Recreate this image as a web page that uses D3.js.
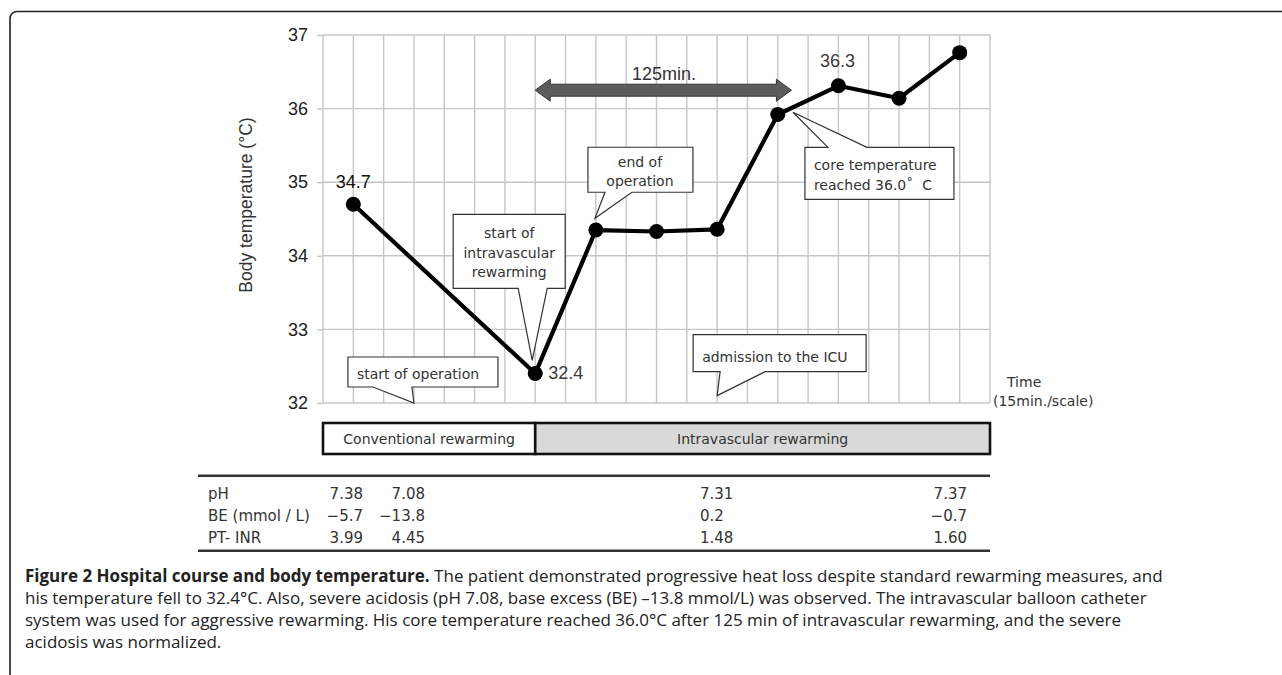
<!DOCTYPE html>
<html>
<head>
<meta charset="utf-8">
<script src="https://cdn.jsdelivr.net/npm/d3@7"></script>
<style>
  html, body { margin: 0; padding: 0; background: #fff; }
  svg { display: block; }
</style>
</head>
<body>
<svg id="chart" width="1282" height="675"></svg>
<script>
// ---------------- DATA ----------------
const times = [1, 7, 9, 11, 13, 15, 17, 19, 21];          // time in 15-min units
const temps = [34.7, 32.4, 34.35, 34.33, 34.36, 35.92, 36.31, 36.14, 36.76];
const yTickValues = [32, 33, 34, 35, 36, 37];
const timeGrid = d3.range(0, 23);
const pointLabels = [
  { index: 0, text: "34.7" },
  { index: 1, text: "32.4" },
  { index: 6, text: "36.3" }
];
const phaseNames = ["Conventional rewarming", "Intravascular rewarming"];
const phaseBounds = [[0, 7], [7, 22]];
const labNames = ["pH", "BE (mmol / L)", "PT- INR"];
const pHValues = ["7.38", "7.08", "7.31", "7.37"];
const beValues = ["\u22125.7", "\u221213.8", "0.2", "\u22120.7"];
const inrValues = ["3.99", "4.45", "1.48", "1.60"];
const durationLabel = "125min.";
const durationSpan = [7, 15.45];
const callouts = [
  { lines: ["start of operation"], tip: [3, 32] },
  { lines: ["start of", "intravascular", "rewarming"], tip: [6.9, 32.58] },
  { lines: ["end of", "operation"], tip: [8.97, 34.51] },
  { lines: ["core temperature", "reached 36.0\u02da\u00a0\u00a0C"], tip: [15.5, 35.95] },
  { lines: ["admission to the ICU"], tip: [13, 32.1] }
];
const captionBold = "Figure 2 Hospital course and body temperature.";
const captionLines = [
  " The patient demonstrated progressive heat loss despite standard rewarming measures, and",
  "his temperature fell to 32.4\u00b0C. Also, severe acidosis (pH 7.08, base excess (BE) \u201313.8 mmol/L) was observed. The intravascular balloon catheter",
  "system was used for aggressive rewarming. His core temperature reached 36.0\u00b0C after 125 min of intravascular rewarming, and the severe",
  "acidosis was normalized."
];

// ---------------- LAYOUT ----------------
const svg = d3.select("#chart");
const plot = { left: 323, right: 990, top: 35, bottom: 403 };
const x = d3.scaleLinear().domain([0, 22]).range([plot.left, plot.right]);
const y = d3.scaleLinear().domain([32, 37]).range([plot.bottom, plot.top]);
const gridColor = "#c6c6c6";
const calloutFont = "'DejaVu Sans', sans-serif";
const jpFont = "'DejaVu Sans', sans-serif";

// frame
svg.append("path")
  .attr("d", "M1282,11.5 H17 A7,7 0 0 0 10,18.5 V676")
  .attr("fill", "none").attr("stroke", "#222").attr("stroke-width", 1.6);

// grid
const grid = svg.append("g");
grid.selectAll("line.v").data(timeGrid).join("line")
  .attr("x1", d => x(d)).attr("x2", d => x(d))
  .attr("y1", plot.top).attr("y2", plot.bottom)
  .attr("stroke", gridColor).attr("stroke-width", 1.4);
grid.selectAll("line.h").data(yTickValues).join("line")
  .attr("x1", plot.left).attr("x2", plot.right)
  .attr("y1", d => y(d)).attr("y2", d => y(d))
  .attr("stroke", gridColor).attr("stroke-width", 1.4);

// y axis
const yAxis = svg.append("g").attr("transform", `translate(${plot.left},0)`)
  .call(d3.axisLeft(y).tickValues(yTickValues).tickSize(6).tickPadding(9).tickFormat(d3.format("d")));
yAxis.select(".domain").remove();
yAxis.selectAll(".tick line").attr("stroke", gridColor).attr("stroke-width", 1.4);
yAxis.selectAll(".tick text")
  .attr("font-family", "'Liberation Sans', Arial, sans-serif")
  .attr("font-size", 18).attr("fill", "#222");

svg.append("text")
  .attr("transform", `translate(252,205) rotate(-90)`)
  .attr("text-anchor", "middle")
  .attr("font-family", "'Liberation Sans', Arial, sans-serif")
  .attr("font-size", 17.5).attr("fill", "#333")
  .text("Body temperature (\u00b0C)");

// time label
svg.append("text").attr("x", x(22) + 17).attr("y", y(32) - 16)
  .attr("font-family", jpFont).attr("font-size", 14).attr("fill", "#333").text("Time");
svg.append("text").attr("x", x(22) + 3).attr("y", y(32) + 3)
  .attr("font-family", jpFont).attr("font-size", 14).attr("fill", "#333").text("(15min./scale)");

// duration arrow
{
  const x0 = x(durationSpan[0]), x1 = x(durationSpan[1]), yc = y(36.25);
  const hl = 15, hh = 11, sh = 6;
  const pts = [[x0, yc], [x0 + hl, yc - hh], [x0 + hl, yc - sh], [x1 - hl, yc - sh], [x1 - hl, yc - hh],
               [x1, yc], [x1 - hl, yc + hh], [x1 - hl, yc + sh], [x0 + hl, yc + sh], [x0 + hl, yc + hh]];
  svg.append("path").attr("d", "M" + pts.map(p => p.join(",")).join("L") + "Z")
    .attr("fill", "#5c5c5c").attr("stroke", "#333").attr("stroke-width", 1);
  svg.append("text").attr("x", x(11.25)).attr("y", yc - 10)
    .attr("text-anchor", "middle")
    .attr("font-family", "'Liberation Sans', Arial, sans-serif")
    .attr("font-size", 18).attr("fill", "#333").text(durationLabel);
}

// callouts (box geometry in pixels relative to the tip)
const calloutGeom = [
  { box: [-66, 84, -46, -16], side: "bottom", base: [-41, -2], anchor: "start", tx: -57, ty: [-24] },
  { box: [-79, 33, -146, -72], side: "bottom", base: [-14, 15], anchor: "middle", tx: -23, ty: [-122, -102, -83] },
  { box: [-7, 98, -71, -26], side: "bottom", base: [10, 37], anchor: "middle", tx: 45, ty: [-51, -32] },
  { box: [12, 161, 35, 87], side: "top", base: [35, 74], anchor: "start", tx: 21, ty: [58, 78] },
  { box: [-24, 149, -61, -24], side: "bottom", base: [3, 48], anchor: "start", tx: -15, ty: [-34] }
];
callouts.forEach((c, i) => {
  const g = calloutGeom[i];
  const tx = x(c.tip[0]), ty = y(c.tip[1]);
  const L = tx + g.box[0], R = tx + g.box[1], T = ty + g.box[2], B = ty + g.box[3];
  const b0 = tx + g.base[0], b1 = tx + g.base[1];
  let d;
  if (g.side === "bottom") {
    d = `M${L},${T}H${R}V${B}H${b1}L${tx},${ty}L${b0},${B}H${L}Z`;
  } else {
    d = `M${L},${T}H${b0}L${tx},${ty}L${b1},${T}H${R}V${B}H${L}Z`;
  }
  svg.append("path").attr("d", d).attr("fill", "#fff").attr("stroke", "#333").attr("stroke-width", 1.2);
  c.lines.forEach((ln, j) => {
    svg.append("text").attr("x", tx + g.tx).attr("y", ty + g.ty[j])
      .attr("text-anchor", g.anchor)
      .attr("font-family", calloutFont).attr("font-size", 14).attr("fill", "#333")
      .text(ln);
  });
});

// data line + points
const pts = times.map((t, i) => [t, temps[i]]);
svg.append("path").datum(pts)
  .attr("d", d3.line().x(d => x(d[0])).y(d => y(d[1])))
  .attr("fill", "none").attr("stroke", "#000").attr("stroke-width", 4.2)
  .attr("stroke-linejoin", "round");
svg.selectAll("circle.pt").data(pts).join("circle")
  .attr("cx", d => x(d[0])).attr("cy", d => y(d[1])).attr("r", 7.5).attr("fill", "#000");

// point labels
const labelOffsets = { 0: [0, -16, "middle"], 1: [13, 5, "start"], 6: [-1, -19, "middle"] };
pointLabels.forEach(p => {
  const o = labelOffsets[p.index];
  svg.append("text").attr("x", x(times[p.index]) + o[0]).attr("y", y(temps[p.index]) + o[1])
    .attr("text-anchor", o[2])
    .attr("font-family", "'Liberation Sans', Arial, sans-serif")
    .attr("font-size", 18).attr("fill", p.index === 0 ? "#111" : "#3a3a3a").text(p.text);
});

// phase bar
const barTop = 423, barH = 31;
phaseNames.forEach((name, i) => {
  const [a, b] = phaseBounds[i];
  svg.append("rect").attr("x", x(a)).attr("y", barTop).attr("width", x(b) - x(a)).attr("height", barH)
    .attr("fill", i === 0 ? "#fff" : "#d9d9d9").attr("stroke", "#111").attr("stroke-width", 2.6);
  svg.append("text").attr("x", (x(a) + x(b)) / 2).attr("y", barTop + 21)
    .attr("text-anchor", "middle").attr("font-family", jpFont).attr("font-size", 14).attr("fill", "#333")
    .text(name);
});

// lab table
const tableLeft = 198, tableTop = 475.7, tableBottom = 550.7;
[tableTop, tableBottom].forEach(yy => {
  svg.append("line").attr("x1", tableLeft).attr("x2", plot.right).attr("y1", yy).attr("y2", yy)
    .attr("stroke", "#333").attr("stroke-width", 2.6);
});
const rowBase = [499, 521, 543];
const colAnchor = [[363, "end"], [425, "end"], [700, "start"], [967, "end"]];
const labRowsValues = [pHValues, beValues, inrValues];
labNames.forEach((nm, r) => {
  svg.append("text").attr("x", 208).attr("y", rowBase[r])
    .attr("font-family", jpFont).attr("font-size", 15).attr("fill", "#333").text(nm);
  labRowsValues[r].forEach((v, c) => {
    svg.append("text").attr("x", colAnchor[c][0]).attr("y", rowBase[r])
      .attr("text-anchor", colAnchor[c][1])
      .attr("font-family", jpFont).attr("font-size", 15).attr("fill", "#333").text(v);
  });
});

// caption
const capFont = "'Open Sans', sans-serif";
const capBase = [582, 604, 626, 648];
const cap = svg.append("g");
captionLines.forEach((ln, i) => {
  const t = cap.append("text").attr("x", 25).attr("y", capBase[i])
    .attr("font-family", capFont).attr("font-size", 17).attr("fill", "#222");
  if (i === 0) {
    t.append("tspan").attr("font-weight", 700).text(captionBold);
    t.append("tspan").text(ln);
  } else {
    t.text(ln);
  }
});
</script>
</body>
</html>
